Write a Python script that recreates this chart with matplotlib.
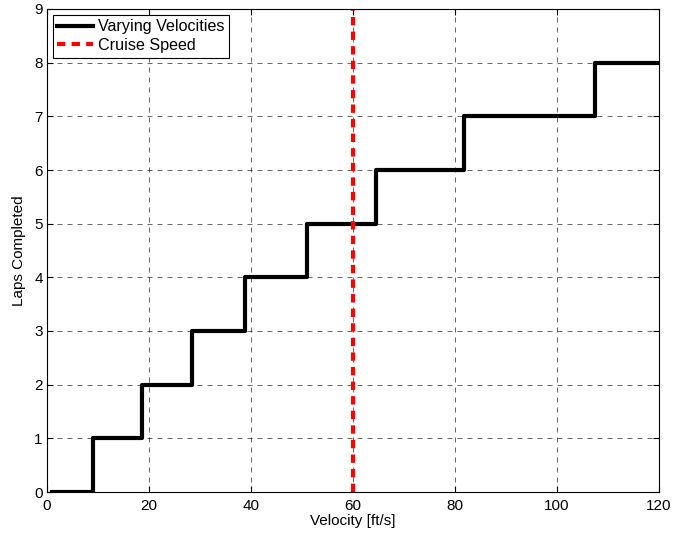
import matplotlib
matplotlib.use("Agg")
import matplotlib.pyplot as plt

plt.rcParams['font.family'] = ['Liberation Sans', 'DejaVu Sans']

# step boundaries (velocity where lap count increases)
velocity = [1, 9.0, 18.7, 28.5, 38.8, 50.9, 64.5, 81.7, 107.5, 120]
laps = [0, 1, 2, 3, 4, 5, 6, 7, 8, 8]
cruise_speed = 60
xticks = [0, 20, 40, 60, 80, 100, 120]
yticks = list(range(10))

fig = plt.figure(figsize=(6.73, 5.35), dpi=100)
ax = fig.add_axes([47/673, 1-492/535, (659-47)/673, (492-9)/535])

ax.step(velocity, laps, where='post', color='black', lw=3, label='Varying Velocities')
ax.axvline(cruise_speed, color='red', ls=(0, (2, 1.5)), lw=3, label='Cruise Speed')

ax.set_xlim(0, 120)
ax.set_ylim(0, 9)
ax.set_xticks(xticks)
ax.set_yticks(yticks)
ax.tick_params(direction='in', labelsize=11, length=4, top=True, right=True, pad=3)
ax.tick_params(axis='x', pad=5)
ax.grid(True, color='black', ls=(0, (6, 6)), lw=0.6, alpha=0.7)
for s in ax.spines.values():
    s.set_linewidth(0.8)
ax.set_xlabel('Velocity [ft/s]', fontsize=11, labelpad=1)
ax.set_ylabel('Laps Completed', fontsize=11, labelpad=6)

leg = ax.legend(loc='upper left', fontsize=11.6, fancybox=False, framealpha=1,
                edgecolor='black', borderaxespad=0.35, handlelength=2.2,
                borderpad=0.3, labelspacing=0.22, handletextpad=0.3)
leg.get_frame().set_linewidth(0.8)

fig.savefig('out.png', dpi=100)
